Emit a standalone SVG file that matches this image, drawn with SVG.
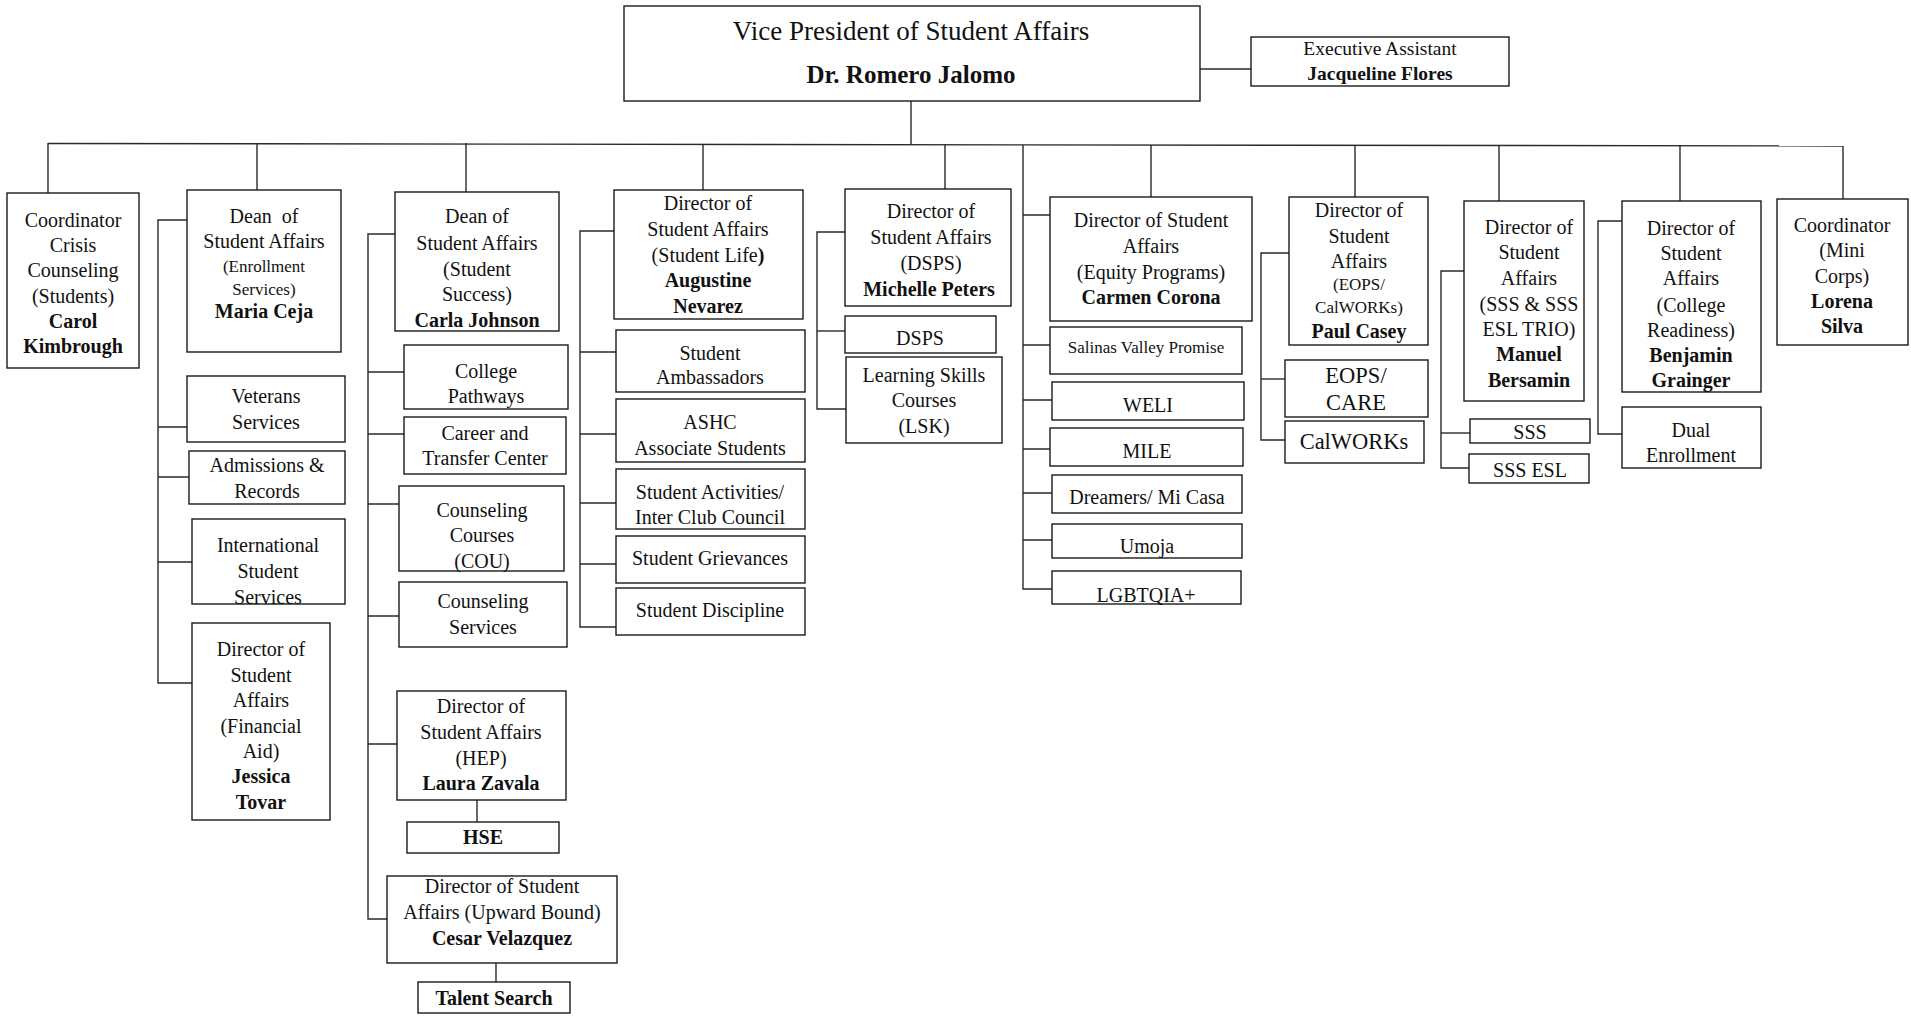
<svg xmlns="http://www.w3.org/2000/svg" width="1911" height="1017" viewBox="0 0 1911 1017">
  <style>
    .bx { fill: #ffffff; stroke: #1a1a1a; stroke-width: 1.4; }
    .cn { fill: none; stroke: #2a2a2a; stroke-width: 1.4; }
    text { font-family: "Liberation Serif", "Times New Roman", serif; font-size: 20px; fill: #111111; text-anchor: middle; }
    .b { font-weight: bold; }
    .s { font-size: 17px; }
    .xs { font-size: 17px; }
    .l { font-size: 22.5px; }
    .ttl { font-size: 27px; }
    .nm { font-size: 25px; font-weight: bold; }
  </style>
  <rect width="1911" height="1017" fill="#ffffff"/>

  <!-- connectors -->
  <g id="connectors">
    <path class="cn" d="M1200 69 H1251"/>
    <path class="cn" d="M911 101 V145"/>
    <path class="cn" d="M48 143.5 L1843 146"/>
    <!-- drops from the main bus -->
    <path class="cn" d="M48 143 V193"/>
    <path class="cn" d="M257 143 V190"/>
    <path class="cn" d="M466 143 V192"/>
    <path class="cn" d="M703 144 V190"/>
    <path class="cn" d="M945 144 V189"/>
    <path class="cn" d="M1151 145 V197"/>
    <path class="cn" d="M1355 145 V197"/>
    <path class="cn" d="M1499 145 V201"/>
    <path class="cn" d="M1680 145 V201"/>
    <path class="cn" d="M1843 146 V199"/>
    <!-- Enrollment Services -->
    <path class="cn" d="M187 220 H158 V683 H192"/>
    <path class="cn" d="M158 427 H187 M158 477 H189 M158 562 H192"/>
    <!-- Student Success -->
    <path class="cn" d="M395 234 H368 V919 H387"/>
    <path class="cn" d="M368 372 H404 M368 434 H404 M368 504 H399 M368 616 H399 M368 744 H397"/>
    <path class="cn" d="M477 800 V822"/>
    <path class="cn" d="M496 963 V982"/>
    <!-- Student Life -->
    <path class="cn" d="M614 231 H580 V627 H616"/>
    <path class="cn" d="M580 352 H616 M580 434 H616 M580 503 H616 M580 564 H616"/>
    <!-- DSPS -->
    <path class="cn" d="M845 232 H817 V409 H846"/>
    <path class="cn" d="M817 331 H845"/>
    <!-- Equity Programs -->
    <path class="cn" d="M1023 145 V589 H1052"/>
    <path class="cn" d="M1023 215 H1050 M1023 345 H1050 M1023 400 H1052 M1023 449 H1050 M1023 493 H1052 M1023 540 H1052"/>
    <!-- EOPS / CalWORKs -->
    <path class="cn" d="M1289 253 H1261 V440 H1285"/>
    <path class="cn" d="M1261 379 H1285"/>
    <!-- SSS -->
    <path class="cn" d="M1465 271 H1441 V468 H1469"/>
    <path class="cn" d="M1441 433 H1470"/>
    <!-- College Readiness -->
    <path class="cn" d="M1622 221 H1598 V434 H1622"/>
  </g>

  <!-- top level -->
  <g id="vp">
    <rect class="bx" x="624" y="6" width="576" height="95"/>
    <text class="ttl" x="911" y="40">Vice President of Student Affairs</text>
    <text class="nm" x="911" y="83">Dr. Romero Jalomo</text>
  </g>
  <g id="exec-assistant">
    <rect class="bx" x="1251" y="37" width="258" height="49"/>
    <text x="1380" y="55" style="font-size:19.5px">Executive Assistant</text>
    <text class="b" x="1380" y="80" style="font-size:19.5px">Jacqueline Flores</text>
  </g>

  <!-- Crisis Counseling -->
  <g id="crisis">
    <rect class="bx" x="7" y="193" width="132" height="175"/>
    <text x="73" y="227">Coordinator</text>
    <text x="73" y="252">Crisis</text>
    <text x="73" y="277">Counseling</text>
    <text x="73" y="303">(Students)</text>
    <text class="b" x="73" y="328">Carol</text>
    <text class="b" x="73" y="353">Kimbrough</text>
  </g>

  <!-- Enrollment Services -->
  <g id="enrollment">
    <rect class="bx" x="187" y="190" width="154" height="162"/>
    <text x="264" y="223" xml:space="preserve">Dean  of</text>
    <text x="264" y="248">Student Affairs</text>
    <text class="s" x="264" y="272">(Enrollment</text>
    <text class="s" x="264" y="295">Services)</text>
    <text class="b" x="264" y="318">Maria Ceja</text>
  </g>
  <g id="veterans">
    <rect class="bx" x="187" y="376" width="158" height="66"/>
    <text x="266" y="403">Veterans</text>
    <text x="266" y="429">Services</text>
  </g>
  <g id="admissions">
    <rect class="bx" x="189" y="451" width="156" height="53"/>
    <text x="267" y="472">Admissions &amp;</text>
    <text x="267" y="498">Records</text>
  </g>
  <g id="international">
    <rect class="bx" x="192" y="519" width="153" height="85"/>
    <text x="268" y="552">International</text>
    <text x="268" y="578">Student</text>
    <text x="268" y="604">Services</text>
  </g>
  <g id="financial-aid">
    <rect class="bx" x="192" y="623" width="138" height="197"/>
    <text x="261" y="656">Director of</text>
    <text x="261" y="682">Student</text>
    <text x="261" y="707">Affairs</text>
    <text x="261" y="733">(Financial</text>
    <text x="261" y="758">Aid)</text>
    <text class="b" x="261" y="783">Jessica</text>
    <text class="b" x="261" y="809">Tovar</text>
  </g>

  <!-- Student Success -->
  <g id="student-success">
    <rect class="bx" x="395" y="192" width="164" height="139"/>
    <text x="477" y="223">Dean of</text>
    <text x="477" y="250">Student Affairs</text>
    <text x="477" y="276">(Student</text>
    <text x="477" y="301">Success)</text>
    <text class="b" x="477" y="327">Carla Johnson</text>
  </g>
  <g id="college-pathways">
    <rect class="bx" x="404" y="345" width="164" height="64"/>
    <text x="486" y="378">College</text>
    <text x="486" y="403">Pathways</text>
  </g>
  <g id="career-transfer">
    <rect class="bx" x="404" y="417" width="162" height="57"/>
    <text x="485" y="440">Career and</text>
    <text x="485" y="465">Transfer Center</text>
  </g>
  <g id="counseling-courses">
    <rect class="bx" x="399" y="486" width="165" height="85"/>
    <text x="482" y="517">Counseling</text>
    <text x="482" y="542">Courses</text>
    <text x="482" y="568">(COU)</text>
  </g>
  <g id="counseling-services">
    <rect class="bx" x="399" y="582" width="168" height="65"/>
    <text x="483" y="608">Counseling</text>
    <text x="483" y="634">Services</text>
  </g>
  <g id="hep">
    <rect class="bx" x="397" y="691" width="169" height="109"/>
    <text x="481" y="713">Director of</text>
    <text x="481" y="739">Student Affairs</text>
    <text x="481" y="765">(HEP)</text>
    <text class="b" x="481" y="790">Laura Zavala</text>
  </g>
  <g id="hse">
    <rect class="bx" x="407" y="822" width="152" height="31"/>
    <text class="b" x="483" y="844">HSE</text>
  </g>
  <g id="upward-bound">
    <rect class="bx" x="387" y="876" width="230" height="87"/>
    <text x="502" y="893">Director of Student</text>
    <text x="502" y="919">Affairs (Upward Bound)</text>
    <text class="b" x="502" y="945">Cesar Velazquez</text>
  </g>
  <g id="talent-search">
    <rect class="bx" x="418" y="982" width="152" height="31"/>
    <text class="b" x="494" y="1005">Talent Search</text>
  </g>

  <!-- Student Life -->
  <g id="student-life">
    <rect class="bx" x="614" y="190" width="189" height="129"/>
    <text x="708" y="210">Director of</text>
    <text x="708" y="236">Student Affairs</text>
    <text x="708" y="262">(Student Life<tspan class="b">)</tspan></text>
    <text class="b" x="708" y="287">Augustine</text>
    <text class="b" x="708" y="313">Nevarez</text>
  </g>
  <g id="ambassadors">
    <rect class="bx" x="616" y="330" width="189" height="62"/>
    <text x="710" y="360">Student</text>
    <text x="710" y="384">Ambassadors</text>
  </g>
  <g id="ashc">
    <rect class="bx" x="616" y="399" width="189" height="63"/>
    <text x="710" y="429">ASHC</text>
    <text x="710" y="455">Associate Students</text>
  </g>
  <g id="activities">
    <rect class="bx" x="616" y="469" width="189" height="60"/>
    <text x="710" y="499">Student Activities/</text>
    <text x="710" y="524">Inter Club Council</text>
  </g>
  <g id="grievances">
    <rect class="bx" x="616" y="536" width="189" height="47"/>
    <text x="710" y="565">Student Grievances</text>
  </g>
  <g id="discipline">
    <rect class="bx" x="616" y="588" width="189" height="47"/>
    <text x="710" y="617">Student Discipline</text>
  </g>

  <!-- DSPS -->
  <g id="dsps-director">
    <rect class="bx" x="845" y="189" width="166" height="117"/>
    <text x="931" y="218">Director of</text>
    <text x="931" y="244">Student Affairs</text>
    <text x="931" y="270">(DSPS)</text>
    <text class="b" x="929" y="296">Michelle Peters</text>
  </g>
  <g id="dsps">
    <rect class="bx" x="845" y="316" width="151" height="37"/>
    <text x="920" y="345">DSPS</text>
  </g>
  <g id="lsk">
    <rect class="bx" x="846" y="357" width="156" height="86"/>
    <text x="924" y="382">Learning Skills</text>
    <text x="924" y="407">Courses</text>
    <text x="924" y="433">(LSK)</text>
  </g>

  <!-- Equity Programs -->
  <g id="equity">
    <rect class="bx" x="1050" y="197" width="202" height="124"/>
    <text x="1151" y="227">Director of Student</text>
    <text x="1151" y="253">Affairs</text>
    <text x="1151" y="279">(Equity Programs)</text>
    <text class="b" x="1151" y="304">Carmen Corona</text>
  </g>
  <g id="salinas-valley-promise">
    <rect class="bx" x="1050" y="327" width="192" height="47"/>
    <text class="xs" x="1146" y="353">Salinas Valley Promise</text>
  </g>
  <g id="weli">
    <rect class="bx" x="1052" y="382" width="192" height="38"/>
    <text x="1148" y="412">WELI</text>
  </g>
  <g id="mile">
    <rect class="bx" x="1050" y="428" width="193" height="38"/>
    <text x="1147" y="458">MILE</text>
  </g>
  <g id="dreamers">
    <rect class="bx" x="1052" y="475" width="190" height="38"/>
    <text x="1147" y="504">Dreamers/ Mi Casa</text>
  </g>
  <g id="umoja">
    <rect class="bx" x="1052" y="524" width="190" height="34"/>
    <text x="1147" y="553">Umoja</text>
  </g>
  <g id="lgbtqia">
    <rect class="bx" x="1052" y="571" width="189" height="33"/>
    <text x="1146" y="602">LGBTQIA+</text>
  </g>

  <!-- EOPS / CalWORKs -->
  <g id="eops-director">
    <rect class="bx" x="1289" y="197" width="139" height="148"/>
    <text x="1359" y="217">Director of</text>
    <text x="1359" y="243">Student</text>
    <text x="1359" y="268">Affairs</text>
    <text class="s" x="1359" y="290">(EOPS/</text>
    <text class="s" x="1359" y="313">CalWORKs)</text>
    <text class="b" x="1359" y="338">Paul Casey</text>
  </g>
  <g id="eops-care">
    <rect class="bx" x="1285" y="360" width="143" height="57"/>
    <text class="l" x="1356" y="383">EOPS/</text>
    <text class="l" x="1356" y="410">CARE</text>
  </g>
  <g id="calworks">
    <rect class="bx" x="1285" y="421" width="139" height="42"/>
    <text class="l" x="1354" y="449">CalWORKs</text>
  </g>

  <!-- SSS -->
  <g id="sss-director">
    <rect class="bx" x="1464" y="201" width="120" height="200"/>
    <text x="1529" y="234">Director of</text>
    <text x="1529" y="259">Student</text>
    <text x="1529" y="285">Affairs</text>
    <text x="1529" y="311">(SSS &amp; SSS</text>
    <text x="1529" y="336">ESL TRIO)</text>
    <text class="b" x="1529" y="361">Manuel</text>
    <text class="b" x="1529" y="387">Bersamin</text>
  </g>
  <g id="sss">
    <rect class="bx" x="1470" y="419" width="120" height="24"/>
    <text x="1530" y="439">SSS</text>
  </g>
  <g id="sss-esl">
    <rect class="bx" x="1469" y="454" width="120" height="29"/>
    <text x="1530" y="477">SSS ESL</text>
  </g>

  <!-- College Readiness -->
  <g id="college-readiness">
    <rect class="bx" x="1622" y="201" width="139" height="191"/>
    <text x="1691" y="235">Director of</text>
    <text x="1691" y="260">Student</text>
    <text x="1691" y="285">Affairs</text>
    <text x="1691" y="312">(College</text>
    <text x="1691" y="337">Readiness)</text>
    <text class="b" x="1691" y="362">Benjamin</text>
    <text class="b" x="1691" y="387">Grainger</text>
  </g>
  <g id="dual-enrollment">
    <rect class="bx" x="1622" y="407" width="139" height="61"/>
    <text x="1691" y="437">Dual</text>
    <text x="1691" y="462">Enrollment</text>
  </g>

  <!-- Mini Corps -->
  <g id="mini-corps">
    <rect class="bx" x="1777" y="199" width="131" height="146"/>
    <text x="1842" y="232">Coordinator</text>
    <text x="1842" y="257">(Mini</text>
    <text x="1842" y="283">Corps)</text>
    <text class="b" x="1842" y="308">Lorena</text>
    <text class="b" x="1842" y="333">Silva</text>
  </g>
</svg>
